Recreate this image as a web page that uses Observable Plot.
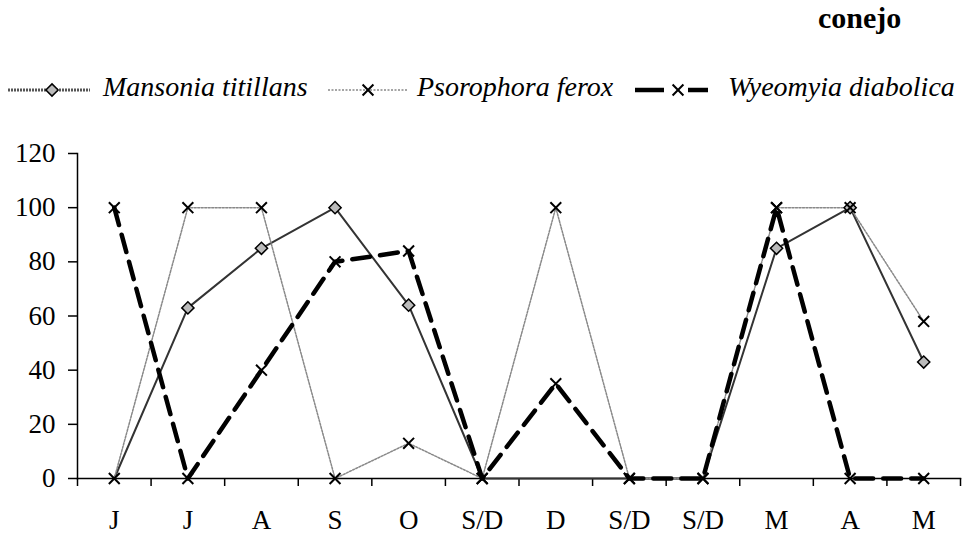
<!DOCTYPE html>
<html><head><meta charset="utf-8">
<script src="https://cdn.jsdelivr.net/npm/d3@7"></script>
<script src="https://cdn.jsdelivr.net/npm/@observablehq/plot@0.6"></script>
<style>
body{margin:0;background:#fff;}
#top svg,#chart svg{display:block}
</style>
</head><body><div id="top"></div><div id="chart"></div>
<script>
const months = ["J","J","A","S","O","S/D","D","S/D","S/D","M","A","M"];
const mansonia = [0,63,85,100,64,0,0,0,0,85,100,43];
const psorophora = [0,100,100,0,13,0,100,0,0,100,100,58];
const wyeomyia = [100,0,40,80,84,0,35,0,0,100,0,0];
const yTicks = [0,20,40,60,80,100,120];
const seriesNames = ["Mansonia titillans","Psorophora ferox","Wyeomyia diabolica"];
const title = "conejo";

const FONT = "Liberation Serif, LiberationSerif, DejaVu Serif, Noto Serif, FreeSerif, Nimbus Roman, Times, Times New Roman, serif";
const idx = months.map((_, i) => i);
const bounds = d3.range(-0.5, months.length, 1);
const rows = s => idx.map(i => ({i, v: s[i]}));

// Title + legend (above the plot SVG)
const header = d3.select("#top").append("svg").attr("width", 963).attr("height", 120)
  .style("font-family", FONT);
header.append("text").attr("x", 818).attr("y", 28).attr("font-weight", "bold")
  .attr("font-size", 30).text(title);

const ly = 90;
// Mansonia swatch
header.append("line").attr("x1", 8).attr("x2", 90).attr("y1", ly).attr("y2", ly)
  .attr("stroke", "#555").attr("stroke-width", 3).attr("stroke-dasharray", "2,1");
header.append("path").attr("transform", `translate(52,${ly})`)
  .attr("d", d3.symbol(d3.symbolDiamond2, Math.PI * 5.5 * 5.5)())
  .attr("fill", "#bbb").attr("stroke", "black").attr("stroke-width", 1.5);
// Psorophora swatch
header.append("line").attr("x1", 328).attr("x2", 408).attr("y1", ly).attr("y2", ly)
  .attr("stroke", "#888").attr("stroke-width", 1.5).attr("stroke-dasharray", "2,1.5");
header.append("path").attr("transform", `translate(368,${ly})`)
  .attr("d", d3.symbol(d3.symbolTimes, Math.PI * 25)())
  .attr("fill", "none").attr("stroke", "black").attr("stroke-width", 2);
// Wyeomyia swatch
header.append("line").attr("x1", 635).attr("x2", 664).attr("y1", ly).attr("y2", ly)
  .attr("stroke", "black").attr("stroke-width", 4.5);
header.append("line").attr("x1", 688).attr("x2", 708).attr("y1", ly).attr("y2", ly)
  .attr("stroke", "black").attr("stroke-width", 4.5);
header.append("path").attr("transform", `translate(678,${ly})`)
  .attr("d", d3.symbol(d3.symbolTimes, Math.PI * 25)())
  .attr("fill", "none").attr("stroke", "black").attr("stroke-width", 2);
[103, 417, 728].forEach((x, k) => {
  header.append("text").attr("x", x).attr("y", 96).attr("font-style", "italic")
    .attr("font-size", 28).text(seriesNames[k]);
});

const chart = Plot.plot({
  width: 963, height: 414,
  marginTop: 33, marginBottom: 56, marginLeft: 77, marginRight: 3,
  x: {domain: [-0.5, months.length - 0.5]},
  y: {domain: [0, 120]},
  style: {fontFamily: FONT, fontSize: "27px", color: "black", background: "white", overflow: "visible"},
  marks: [
    Plot.axisY({ticks: yTicks, tickSize: 9, tickPadding: 13, fontSize: 27, label: null, strokeWidth: 1.5}),
    Plot.axisX({ticks: bounds, tickSize: 8, tickFormat: () => "", label: null, strokeWidth: 1.5}),
    Plot.axisX({ticks: idx, tickSize: 0, tickPadding: 31, tickFormat: i => months[i], fontSize: 27, label: null}),
    Plot.frame({anchor: "left", strokeWidth: 1.5}),
    Plot.frame({anchor: "bottom", strokeWidth: 1.5}),
    Plot.line(rows(mansonia), {x: "i", y: "v", stroke: "#333", strokeWidth: 2}),
    Plot.line(rows(psorophora), {x: "i", y: "v", stroke: "#888", strokeWidth: 1.5, strokeDasharray: "2,1.5"}),
    Plot.line(rows(wyeomyia), {x: "i", y: "v", stroke: "black", strokeWidth: 4.5, strokeDasharray: "18,10"}),
    Plot.dot(rows(mansonia).filter(d => d.v > 0), {x: "i", y: "v", symbol: "diamond2", r: 5.5, fill: "#bbb", stroke: "black", strokeWidth: 1.5}),
    Plot.dot(rows(psorophora), {x: "i", y: "v", symbol: "times", r: 5, stroke: "black", strokeWidth: 2}),
    Plot.dot(rows(wyeomyia), {x: "i", y: "v", symbol: "times", r: 5, stroke: "black", strokeWidth: 2})
  ]
});
document.getElementById("chart").appendChild(chart);
</script>
</body></html>
